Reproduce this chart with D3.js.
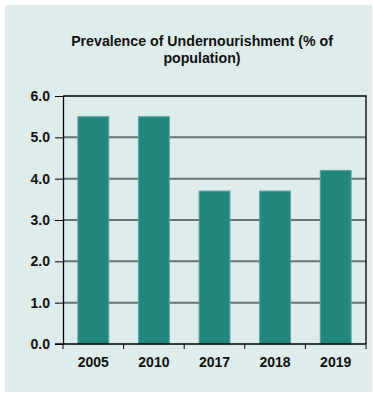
<!DOCTYPE html>
<html>
<head>
<meta charset="utf-8">
<script src="https://cdn.jsdelivr.net/npm/d3@7"></script>
<style>
  body { margin: 0; background: #fff; }
  svg text { font-family: "Liberation Sans", Arial, sans-serif; font-weight: bold; fill: #111; }
</style>
</head>
<body>
<script>
// chart data
var years = ["2005", "2010", "2017", "2018", "2019"];
var values = [5.5, 5.5, 3.7, 3.7, 4.2];
var yTicks = [0, 1, 2, 3, 4, 5, 6];
var titleLines = ["Prevalence of Undernourishment (% of", "population)"];

var W = 373, H = 394;
var margin = {top: 96, right: 7, bottom: 50, left: 63};
var width = W - margin.left - margin.right,
    height = H - margin.top - margin.bottom;

var svg = d3.select("body").append("svg")
    .attr("width", W)
    .attr("height", H);

// panel background
svg.append("rect")
    .attr("x", 5).attr("y", 5)
    .attr("width", 367).attr("height", 387)
    .attr("fill", "#deeceb");

svg.append("text")
    .attr("x", 202)
    .attr("y", 46)
    .attr("text-anchor", "middle")
    .style("font-size", "14.2px")
    .selectAll("tspan")
    .data(titleLines)
  .enter().append("tspan")
    .attr("x", 202)
    .attr("dy", function(d, i) { return i ? 17 : 0; })
    .text(function(d) { return d; });

var g = svg.append("g")
    .attr("transform", "translate(" + margin.left + "," + margin.top + ")");

var x = d3.scaleBand().domain(years).range([0, width]).paddingInner(0.49).paddingOuter(0.245);
var y = d3.scaleLinear().domain([0, 6]).range([height, 0]);

// gridlines
g.selectAll(".grid")
    .data(yTicks.filter(function(d) { return d > 0 && d < 6; }))
  .enter().append("line")
    .attr("class", "grid")
    .attr("x1", 0).attr("x2", width)
    .attr("y1", function(d) { return y(d); })
    .attr("y2", function(d) { return y(d); })
    .attr("stroke", "#6b7372")
    .attr("stroke-width", 2);

// top and right border
g.append("path")
    .attr("d", "M0," + y(6) + "H" + width + "V" + height)
    .attr("fill", "none")
    .attr("stroke", "#000")
    .attr("stroke-width", 1.3);

// bars
g.selectAll(".bar")
    .data(values)
  .enter().append("rect")
    .attr("class", "bar")
    .attr("x", function(d, i) { return x(years[i]); })
    .attr("y", function(d) { return y(d); })
    .attr("width", x.bandwidth())
    .attr("height", function(d) { return height - y(d); })
    .attr("fill", "#23867f")
    .attr("stroke", "#5aa7a1")
    .attr("stroke-width", 1);

// y axis
var yAxis = g.append("g")
    .call(d3.axisLeft(y).tickValues(yTicks).tickFormat(d3.format(".1f")).tickSize(8).tickSizeOuter(0));
yAxis.select(".domain").attr("stroke", "#000").attr("stroke-width", 1.3);
yAxis.selectAll(".tick line").attr("stroke", "#000");
yAxis.selectAll("text").attr("x", -13).attr("fill", "#111").attr("font-size", null).style("font-size", "14px");

// x axis, ticks at band edges
var xAxis = g.append("g")
    .attr("transform", "translate(0," + height + ")");
xAxis.append("line")
    .attr("x1", -8).attr("x2", width)
    .attr("stroke", "#000").attr("stroke-width", 1.3);
xAxis.selectAll(".xt")
    .data(years.concat(["end"]))
  .enter().append("line")
    .attr("class", "xt")
    .attr("x1", function(d, i) { return i * width / years.length; })
    .attr("x2", function(d, i) { return i * width / years.length; })
    .attr("y1", 0).attr("y2", 5)
    .attr("stroke", "#000");
xAxis.selectAll(".xl")
    .data(years)
  .enter().append("text")
    .attr("class", "xl")
    .attr("x", function(d) { return x(d) + x.bandwidth() / 2; })
    .attr("y", 23)
    .attr("text-anchor", "middle")
    .style("font-size", "14px")
    .text(function(d) { return d; });
</script>
</body>
</html>
